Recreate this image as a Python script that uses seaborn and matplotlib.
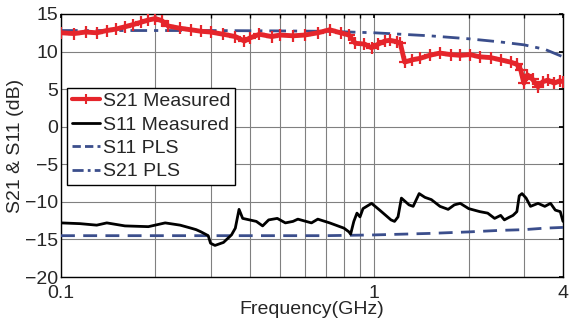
import numpy as np
import pandas as pd
import matplotlib
matplotlib.use("Agg")
import matplotlib.pyplot as plt
import seaborn as sns
from matplotlib.lines import Line2D

sns.set_theme(style="white")
plt.rcParams['font.family'] = ['Liberation Sans', 'DejaVu Sans']

# S21 measured (GHz, dB)
s21_meas_f = [0.10, 0.11, 0.12, 0.13, 0.14, 0.15, 0.16, 0.17, 0.18, 0.19, 0.20, 0.21,
              0.22, 0.24, 0.26, 0.28, 0.30, 0.33, 0.36, 0.385, 0.40, 0.43, 0.47, 0.50,
              0.55, 0.60, 0.66, 0.72, 0.78, 0.83, 0.87, 0.93, 0.98, 1.03, 1.08, 1.12,
              1.18, 1.21, 1.25, 1.32, 1.40, 1.50, 1.62, 1.75, 1.88, 2.02, 2.17, 2.35,
              2.53, 2.72, 2.85, 2.93, 3.00, 3.08, 3.20, 3.33, 3.45, 3.58, 3.75, 3.90, 4.00]
s21_meas_db = [12.5, 12.4, 12.6, 12.5, 12.8, 13.0, 13.3, 13.6, 13.9, 14.2, 14.4, 14.1,
               13.4, 13.1, 12.9, 12.7, 12.6, 12.3, 12.0, 11.4, 11.8, 12.3, 12.0, 12.2,
               12.1, 12.2, 12.5, 12.9, 12.5, 12.2, 11.1, 11.0, 10.5, 11.0, 11.4, 11.5,
               11.3, 11.1, 8.6, 8.9, 9.1, 9.5, 9.8, 9.6, 9.5, 9.6, 9.3, 9.2,
               8.9, 8.6, 8.3, 7.6, 5.8, 6.9, 6.3, 5.3, 6.0, 6.2, 5.8, 6.1, 6.0]

# S11 measured
s11_meas_f = [0.10, 0.115, 0.13, 0.14, 0.16, 0.19, 0.215, 0.24, 0.26, 0.27, 0.28, 0.295,
              0.30, 0.31, 0.33, 0.35, 0.36, 0.37, 0.38, 0.42, 0.44, 0.46, 0.49, 0.52,
              0.55, 0.57, 0.63, 0.66, 0.72, 0.80, 0.83, 0.84, 0.86, 0.88, 0.90, 0.92,
              0.98, 1.04, 1.13, 1.16, 1.19, 1.22, 1.29, 1.33, 1.39, 1.45, 1.52, 1.62,
              1.72, 1.80, 1.88, 2.00, 2.17, 2.30, 2.42, 2.53, 2.60, 2.68, 2.77, 2.85,
              2.90, 2.96, 3.05, 3.15, 3.33, 3.50, 3.65, 3.78, 3.92, 4.00]
s11_meas_db = [-12.8, -12.9, -13.1, -12.8, -13.2, -13.3, -12.8, -13.1, -13.5, -13.7, -14.0, -14.5,
               -15.5, -15.8, -15.4, -14.4, -13.5, -11.0, -12.2, -12.6, -13.2, -12.4, -12.2, -12.8,
               -12.6, -12.3, -12.8, -12.3, -12.8, -13.5, -14.0, -14.3, -12.6, -11.5, -12.0, -10.9,
               -10.2, -11.1, -12.4, -12.6, -12.0, -9.5, -10.4, -10.6, -8.9, -9.4, -9.7, -10.6,
               -11.0, -10.4, -10.2, -10.9, -11.3, -11.5, -12.2, -11.8, -12.4, -12.1, -11.8, -11.3,
               -9.2, -8.9, -9.5, -10.6, -10.2, -10.6, -10.2, -11.1, -11.3, -12.6]

# PLS models
pls_f = [0.10, 0.20, 0.30, 0.50, 0.70, 1.00, 1.50, 2.00, 2.50, 3.00, 3.50, 4.00]
s11_pls_db = [-14.5, -14.5, -14.5, -14.5, -14.5, -14.4, -14.2, -14.0, -13.8, -13.7, -13.5, -13.4]
s21_pls_db = [12.8, 12.8, 12.8, 12.75, 12.7, 12.5, 12.1, 11.7, 11.3, 10.9, 10.3, 9.3]

x_ticks = [0.1, 1, 4]
x_ticklabels = ["0.1", "1", "4"]
y_ticks = [15, 10, 5, 0, -5, -10, -15, -20]

red = "#e5252b"
navy = "#3b4e8c"
FS = 14

fig = plt.figure(figsize=(5.75, 3.34), dpi=100)
ax = fig.add_axes([61/575, 1 - 277/334, 502/575, 263/334])

df21 = pd.DataFrame({"f": s21_meas_f, "db": s21_meas_db})
df11 = pd.DataFrame({"f": s11_meas_f, "db": s11_meas_db})
dfp = pd.DataFrame({"f": pls_f, "s11": s11_pls_db, "s21": s21_pls_db})

sns.lineplot(data=dfp, x="f", y="s21", ax=ax, color=navy, lw=2.0,
             linestyle=(0, (6, 2.5, 1.5, 2.5)), zorder=3)
sns.lineplot(data=dfp, x="f", y="s11", ax=ax, color=navy, lw=2.0,
             linestyle=(0, (5, 3)), zorder=3)
sns.lineplot(data=df11, x="f", y="db", ax=ax, color="black", lw=2.0, zorder=4)
sns.lineplot(data=df21, x="f", y="db", ax=ax, color=red, lw=3.5, marker="+",
             markersize=8, markeredgewidth=1.6, markeredgecolor=red, zorder=5)

ax.set_xscale("log")
ax.set_xlim(0.1, 4)
ax.set_ylim(-20, 15)
ax.set_xticks(x_ticks)
ax.set_xticklabels(x_ticklabels)
ax.set_yticks(y_ticks)
minor = [0.2, 0.3, 0.4, 0.5, 0.6, 0.7, 0.8, 0.9, 2, 3]
ax.set_xticks(minor, minor=True)
ax.xaxis.set_minor_formatter(matplotlib.ticker.NullFormatter())
ax.grid(True, which="both", axis="x", color="#808080", lw=0.8)
ax.grid(True, which="major", axis="y", color="#808080", lw=0.8)
ax.tick_params(which="both", direction="in", top=True, right=True, length=3,
               labelsize=FS, pad=2, color="black")
ax.tick_params(axis="x", pad=6)
for s in ax.spines.values():
    s.set_color("black")
    s.set_linewidth(1.0)
ax.set_xlabel("Frequency(GHz)", fontsize=FS, labelpad=-1)
ax.set_ylabel("S21 & S11 (dB)", fontsize=FS, labelpad=1)

handles = [
    Line2D([], [], color=red, lw=3, marker="+", markersize=7, markeredgewidth=1.5),
    Line2D([], [], color="black", lw=2),
    Line2D([], [], color=navy, lw=2, linestyle=(0, (3, 1.5))),
    Line2D([], [], color=navy, lw=2, linestyle=(0, (4, 1.5, 1, 1.5))),
]
labels = ["S21 Measured", "S11 Measured", "S11 PLS", "S21 PLS"]
leg = ax.legend(handles, labels, loc="upper left", bbox_to_anchor=(0.012, 0.72),
                fontsize=FS, frameon=True, fancybox=False, edgecolor="black",
                framealpha=1, borderpad=0.25, labelspacing=0.3, handlelength=1.45,
                handletextpad=0.15, borderaxespad=0)
leg.get_frame().set_linewidth(1.0)

fig.savefig("out.png", dpi=100)
